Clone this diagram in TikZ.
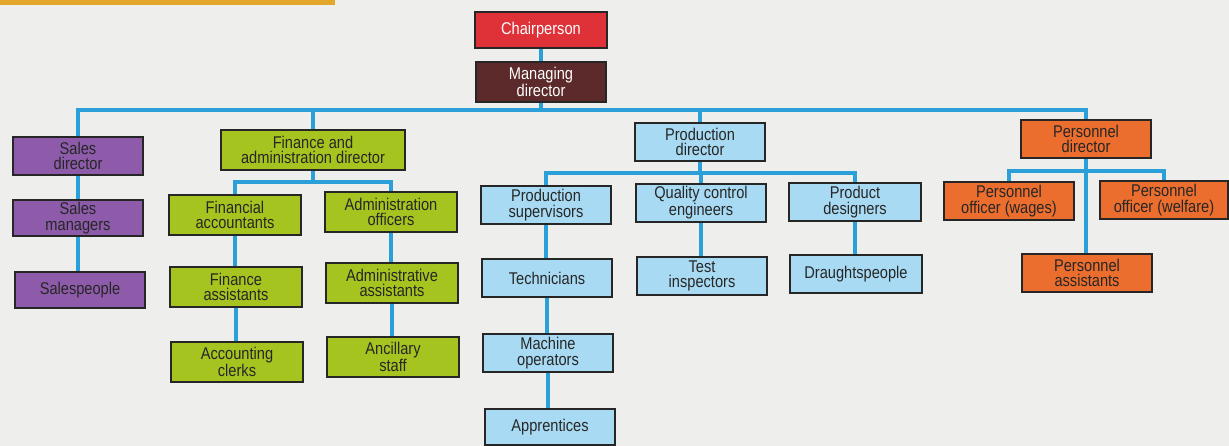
\documentclass[tikz,border=0pt]{standalone}
\usepackage{fontspec}
\setmainfont{Liberation Sans}[FakeStretch=0.86]
\usepackage{tikz}

\definecolor{page}{HTML}{EEEEEC}
\definecolor{band}{HTML}{E4A62A}
\definecolor{linkblue}{HTML}{2A9FD8}
\definecolor{chairred}{HTML}{DE3138}
\definecolor{mdbrown}{HTML}{5C2A2A}
\definecolor{salespurple}{HTML}{8D5BAA}
\definecolor{finlime}{HTML}{A6C41F}
\definecolor{prodblue}{HTML}{A8DBF3}
\definecolor{persorange}{HTML}{EC6E2E}

\tikzset{
    post/.style={draw=black!85, line width=1.6pt, rectangle, align=center,
        minimum width=130pt, minimum height=38pt, inner sep=1pt,
        text=black!85, font=\fontsize{17}{15.5}\selectfont},
    boss/.style={post, fill=#1, text=white},
    sales/.style={post, fill=salespurple},
    fin/.style={post, fill=finlime},
    prod/.style={post, fill=prodblue},
    pers/.style={post, fill=persorange},
    link/.style={draw=linkblue, line width=3.5pt}
}

\begin{document}
\begin{tikzpicture}[x=1pt,y=-1pt]
        % page
        \fill [page] (0,0) rectangle (1229,446);
        \fill [band] (0,0) rectangle (335,5);
        % top
        \node [boss=chairred, minimum width=132pt, minimum height=36pt] (chair) at (541,30) {Chairperson};
        \node [boss=mdbrown, minimum height=40pt] (md) at (541,82) {Managing\\director};
        % directors
        \node [sales] (salesdir) at (78,156) {Sales\\director};
        \node [fin, minimum width=184pt, minimum height=40pt] (findir) at (313,150) {Finance and\\administration director};
        \node [prod] (proddir) at (700,142) {Production\\director};
        \node [pers] (persdir) at (1086,139) {Personnel\\director};
        % sales
        \node [sales, minimum height=36pt] (salesman) at (78,218) {Sales\\managers};
        \node [sales, minimum height=36pt] (salespeople) at (80,290) {Salespeople};
        % finance
        \node [fin, minimum width=132pt, minimum height=40pt] (finacc) at (235,215) {Financial\\accountants};
        \node [fin, minimum width=132pt, minimum height=40pt] (finass) at (236,287) {Finance\\assistants};
        \node [fin, minimum width=132pt, minimum height=40pt] (acclerks) at (237,362) {Accounting\\clerks};
        \node [fin, minimum width=132pt, minimum height=40pt] (adminoff) at (391,212) {Administration\\officers};
        \node [fin, minimum width=132pt, minimum height=40pt] (adminass) at (392,283) {Administrative\\assistants};
        \node [fin, minimum width=132pt, minimum height=40pt] (ancillary) at (393,357) {Ancillary\\staff};
        % production
        \node [prod] (prodsup) at (546,205) {Production\\supervisors};
        \node [prod] (technicians) at (547,278) {Technicians};
        \node [prod] (machine) at (548,353) {Machine\\operators};
        \node [prod, minimum height=36pt] (apprentices) at (550,427) {Apprentices};
        \node [prod] (quality) at (701,203) {Quality control\\engineers};
        \node [prod] (testinsp) at (702,276) {Test\\inspectors};
        \node [prod, minimum width=132pt] (designers) at (855,202) {Product\\designers};
        \node [prod, minimum width=132pt] (draught) at (856,274) {Draughtspeople};
        % personnel
        \node [pers] (wages) at (1009,201) {Personnel\\officer (wages)};
        \node [pers, minimum width=128pt] (welfare) at (1164,200) {Personnel\\officer (welfare)};
        \node [pers] (persass) at (1087,273) {Personnel\\assistants};
        % bus levels
        \coordinate (mainbus) at (0,110);
        \coordinate (finbus) at (0,182);
        \coordinate (prodbus) at (0,173);
        \coordinate (persbus) at (0,171);
        % links
        \draw [link] (md.south) -- (md.south |- mainbus);
        \draw [link] (salesdir.north) -- (salesdir.north |- mainbus) -| (persdir.north);
        \draw [link] (findir.north) -- (findir.north |- mainbus);
        \draw [link] (proddir.north) -- (proddir.north |- mainbus);
        \draw [link] (chair.south) -- (md.north);
        \draw [link] (salesdir.south) -- (salesman.north);
        \draw [link] (salesman.south) -- (salesman.south |- salespeople.north);
        \draw [link] (findir.south) -- (findir.south |- finbus);
        \draw [link] (finacc.north) -- (finacc.north |- finbus) -| (adminoff.north);
        \draw [link] (finacc.south) -- (finacc.south |- finass.north);
        \draw [link] (finass.south) -- (finass.south |- acclerks.north);
        \draw [link] (adminoff.south) -- (adminoff.south |- adminass.north);
        \draw [link] (adminass.south) -- (adminass.south |- ancillary.north);
        \draw [link] (proddir.south) -- (proddir.south |- prodbus);
        \draw [link] (prodsup.north) -- (prodsup.north |- prodbus) -| (designers.north);
        \draw [link] (quality.north) -- (quality.north |- prodbus);
        \draw [link] (prodsup.south) -- (prodsup.south |- technicians.north);
        \draw [link] (technicians.south) -- (technicians.south |- machine.north);
        \draw [link] (machine.south) -- (machine.south |- apprentices.north);
        \draw [link] (quality.south) -- (quality.south |- testinsp.north);
        \draw [link] (designers.south) -- (designers.south |- draught.north);
        \draw [link] (persdir.south) -- (persdir.south |- persass.north);
        \draw [link] (wages.north) -- (wages.north |- persbus) -| (welfare.north);
    \end{tikzpicture}
\end{document}
